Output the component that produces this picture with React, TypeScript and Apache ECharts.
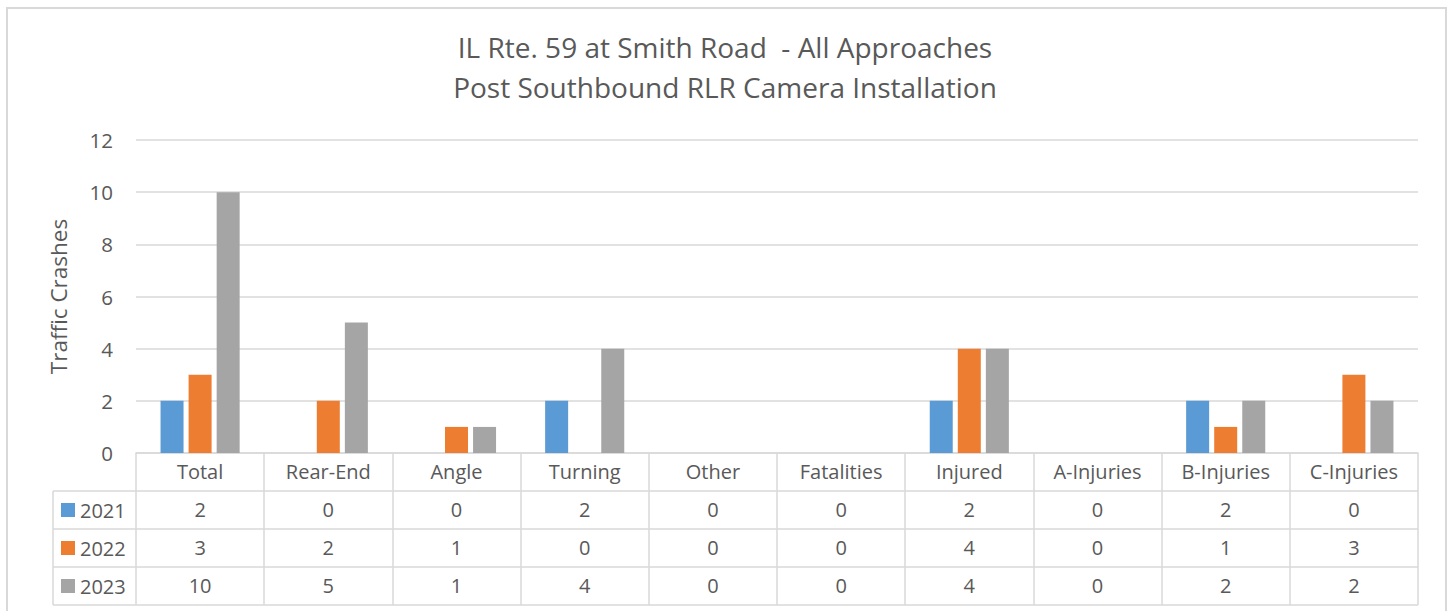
import React, { useEffect, useRef } from "react";
import * as echarts from "echarts";

const categories = ["Total", "Rear-End", "Angle", "Turning", "Other", "Fatalities", "Injured", "A-Injuries", "B-Injuries", "C-Injuries"];
const years = ["2021", "2022", "2023"];
const values2021 = [2, 0, 0, 2, 0, 0, 2, 0, 2, 0];
const values2022 = [3, 2, 1, 0, 0, 0, 4, 0, 1, 3];
const values2023 = [10, 5, 1, 4, 0, 0, 4, 0, 2, 2];
const yTicks = [0, 2, 4, 6, 8, 10, 12];
const titleLines = ["IL Rte. 59 at Smith Road  - All Approaches", "Post Southbound RLR Camera Installation"];

const colors = ["#5b9bd5", "#ed7d31", "#a5a5a5"];
const TEXT = "#595959";
const LINE = "#d9d9d9";
const FONT = "'Open Sans', sans-serif";

const W = 1450;
const H = 611;
const GRID_LEFT = 136;
const GRID_RIGHT = 1418;
const GRID_TOP = 140;
const AXIS_Y = 453;
const ROW = 38;
const TABLE_LEFT = 53;

export default function App() {
  const ref = useRef<HTMLDivElement>(null);
  useEffect(() => {
    if (!ref.current) return;
    const chart = echarts.init(ref.current, undefined, { renderer: "svg" });
    const allValues = [values2021, values2022, values2023];

    const rowAxes = allValues.map((vals, r) => ({
      type: "category" as const,
      gridIndex: 0,
      position: "bottom" as const,
      offset: ROW * (r + 1),
      data: categories,
      axisLine: { show: false },
      axisTick: { show: false },
      axisLabel: {
        interval: 0,
        margin: 8,
        color: TEXT,
        fontFamily: FONT,
        fontSize: 20,
        lineHeight: 20,
        formatter: (_v: string, i: number) => String(vals[i]),
      },
    }));

    const lines: any[] = [];
    for (let r = 1; r <= 4; r++) {
      const y = AXIS_Y + ROW * r;
      lines.push({
        type: "line",
        shape: { x1: TABLE_LEFT, y1: y, x2: GRID_RIGHT, y2: y },
        style: { stroke: LINE, lineWidth: 1.5 },
        silent: true,
      });
    }
    lines.push({
      type: "line",
      shape: { x1: TABLE_LEFT, y1: AXIS_Y + ROW, x2: TABLE_LEFT, y2: AXIS_Y + ROW * 4 },
      style: { stroke: LINE, lineWidth: 1.5 },
      silent: true,
    });

    chart.setOption({
      animation: false,
      backgroundColor: "#ffffff",
      color: colors,
      textStyle: { fontFamily: FONT },
      title: titleLines.map((t, i) => ({
        text: t,
        left: "center",
        top: 29 + i * 40,
        padding: 0,
        textStyle: {
          color: TEXT,
          fontFamily: FONT,
          fontSize: 28,
          fontWeight: "normal",
          lineHeight: 36,
        },
      })),
      legend: years.map((y, i) => ({
        orient: "vertical",
        left: 61,
        top: AXIS_Y + ROW * (i + 1) + ROW / 2 - 10,
        padding: 0,
        itemWidth: 14,
        itemHeight: 14,
        itemGap: 5,
        icon: "rect",
        data: [y],
        textStyle: { color: TEXT, fontFamily: FONT, fontSize: 20, lineHeight: 20, padding: 0 },
        selectedMode: false,
      })),
      grid: {
        left: GRID_LEFT,
        right: W - GRID_RIGHT,
        top: GRID_TOP,
        bottom: H - AXIS_Y,
        containLabel: false,
        outerBoundsMode: "none",
      },
      xAxis: [
        {
          type: "category",
          data: categories,
          axisLine: { show: true, lineStyle: { color: LINE, width: 1.5 } },
          axisTick: {
            show: true,
            interval: 0,
            length: ROW * 4,
            inside: false,
            lineStyle: { color: LINE, width: 1.5 },
          },
          axisLabel: {
            interval: 0,
            margin: 8,
            color: TEXT,
            fontFamily: FONT,
            fontSize: 20,
            lineHeight: 20,
          },
        },
        ...rowAxes,
      ],
      yAxis: {
        type: "value",
        min: yTicks[0],
        max: yTicks[yTicks.length - 1],
        interval: 2,
        name: "Traffic Crashes",
        nameLocation: "middle",
        nameRotate: 90,
        nameGap: 66,
        nameTextStyle: { color: TEXT, fontFamily: FONT, fontSize: 22.5 },
        axisLine: { show: false },
        axisTick: { show: false },
        axisLabel: { color: TEXT, fontFamily: FONT, fontSize: 20.5, margin: 23 },
        splitLine: { lineStyle: { color: LINE, width: 1.5 } },
      },
      series: allValues.map((vals, i) => ({
        type: "bar",
        name: years[i],
        data: vals,
        xAxisIndex: 0,
        barWidth: 23,
        barGap: "22%",
        itemStyle: { color: colors[i] },
      })),
      graphic: [
        {
          type: "rect",
          shape: { x: 7, y: 8, width: 1439, height: 640 },
          style: { fill: "none", stroke: LINE, lineWidth: 2 },
          silent: true,
        },
        ...lines,
      ],
    });
    return () => chart.dispose();
  }, []);
  return (
    <div
      ref={ref}
      style={{ position: "absolute", left: 0, top: 0, width: W, height: H }}
    />
  );
}
